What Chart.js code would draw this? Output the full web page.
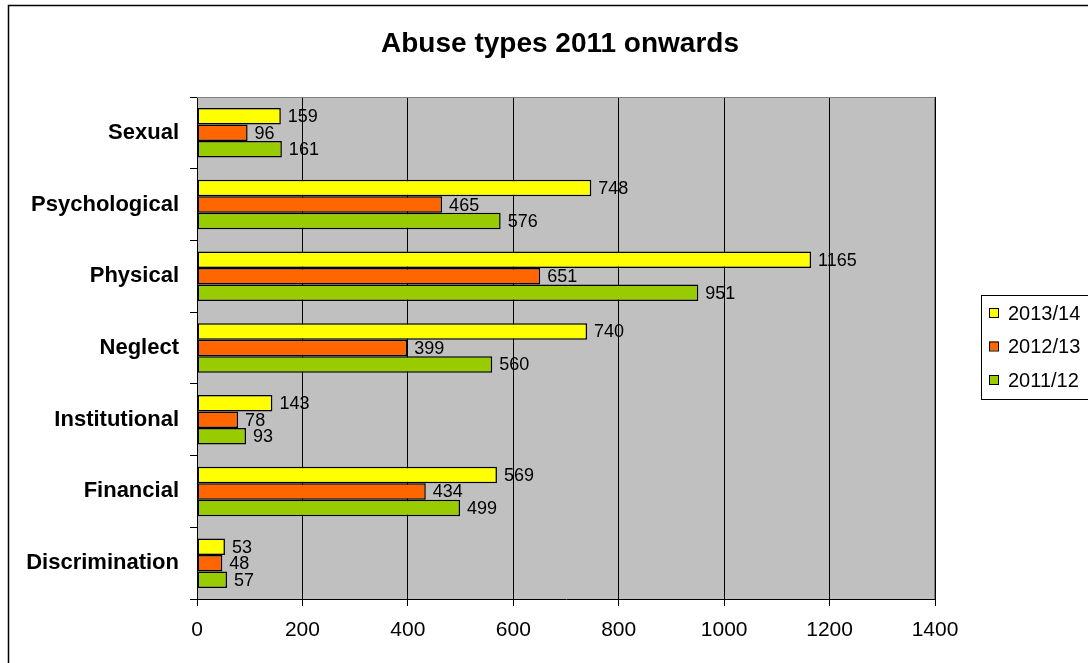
<!DOCTYPE html>
<html>
<head>
<meta charset="utf-8">
<title>Abuse types 2011 onwards</title>
<script src="https://cdn.jsdelivr.net/npm/chart.js@4/dist/chart.umd.min.js"></script>
<style>
  html, body { margin: 0; padding: 0; background: #fff; }
  canvas { display: block; }
</style>
</head>
<body>
<canvas id="abuseChart" width="1088" height="663"></canvas>
<script>
// Abuse types by year, horizontal grouped bars
const categories = ['Sexual', 'Psychological', 'Physical', 'Neglect', 'Institutional', 'Financial', 'Discrimination'];
const seriesNames = ['2013/14', '2012/13', '2011/12'];
const values1314 = [159, 748, 1165, 740, 143, 569, 53];
const values1213 = [96, 465, 651, 399, 78, 434, 48];
const values1112 = [161, 576, 951, 560, 93, 499, 57];
const axisMin = 0;
const axisMax = 1400;
const axisStep = 200;

const FONT = '"Liberation Sans", Arial, sans-serif';
const colors = ['#FFFF00', '#FF6600', '#99CC00'];

// grey plot background, drawn before the grid
const plotBackground = {
  id: 'plotBackground',
  beforeDraw(chart) {
    const { ctx, chartArea: a } = chart;
    ctx.save();
    ctx.fillStyle = '#fff';
    ctx.fillRect(0, 0, chart.width, chart.height);
    ctx.fillStyle = '#C0C0C0';
    ctx.fillRect(a.left, a.top, a.right - a.left, a.bottom - a.top);
    ctx.restore();
  }
};

// value labels to the right of each bar
const valueLabels = {
  id: 'valueLabels',
  afterDatasetsDraw(chart) {
    const ctx = chart.ctx;
    ctx.save();
    ctx.font = '18px ' + FONT;
    ctx.fillStyle = '#000';
    ctx.textAlign = 'left';
    ctx.textBaseline = 'middle';
    chart.data.datasets.forEach((ds, i) => {
      chart.getDatasetMeta(i).data.forEach((bar, j) => {
        ctx.fillText(String(ds.data[j]), bar.x + 7, bar.y + 1);
      });
    });
    ctx.restore();
  }
};

// title, outer frame, plot edges and the boxed legend
const frameAndLegend = {
  id: 'frameAndLegend',
  afterDraw(chart) {
    const { ctx, chartArea: a } = chart;
    ctx.save();

    ctx.strokeStyle = '#000';
    ctx.lineWidth = 1.5;
    ctx.strokeRect(8.5, 5.5, 1200, 800);

    ctx.strokeStyle = '#808080';
    ctx.lineWidth = 1;
    ctx.beginPath();
    ctx.moveTo(a.left, a.top + 0.5);
    ctx.lineTo(a.right, a.top + 0.5);
    ctx.moveTo(a.right - 0.5, a.top);
    ctx.lineTo(a.right - 0.5, a.bottom);
    ctx.stroke();

    ctx.fillStyle = '#000';
    ctx.font = 'bold 28px ' + FONT;
    ctx.textAlign = 'center';
    ctx.textBaseline = 'alphabetic';
    ctx.fillText('Abuse types 2011 onwards', 560, 52);

    ctx.strokeStyle = '#000';
    ctx.lineWidth = 1;
    ctx.strokeRect(981.5, 295.5, 200, 104);
    const rows = [313, 346.5, 380];
    ctx.font = '20px ' + FONT;
    ctx.textAlign = 'left';
    ctx.textBaseline = 'middle';
    chart.data.datasets.forEach((ds, i) => {
      const y = rows[i];
      ctx.fillStyle = ds.backgroundColor;
      ctx.fillRect(989, y - 5, 9, 9);
      ctx.strokeRect(989.5, y - 4.5, 9, 9);
      ctx.fillStyle = '#000';
      ctx.fillText(ds.label, 1008, y + 1);
    });
    ctx.restore();
  }
};

const seriesValues = [values1314, values1213, values1112];

new Chart(document.getElementById('abuseChart'), {
  type: 'bar',
  data: {
    labels: categories,
    datasets: seriesNames.map((name, i) => ({
      label: name,
      data: seriesValues[i],
      backgroundColor: colors[i],
      borderColor: '#000',
      borderWidth: 1.5,
      borderSkipped: false,
      categoryPercentage: 0.69,
      barPercentage: 1.0
    }))
  },
  options: {
    indexAxis: 'y',
    responsive: false,
    animation: false,
    layout: { padding: { top: 97, right: 153, left: 0, bottom: 0 } },
    plugins: {
      legend: { display: false },
      title: { display: false },
      tooltip: { enabled: false }
    },
    scales: {
      x: {
        min: axisMin,
        max: axisMax,
        ticks: {
          stepSize: axisStep,
          color: '#000',
          padding: 12,
          maxRotation: 0,
          font: { family: FONT, size: 21 },
          callback: (v) => String(v)
        },
        grid: { color: '#000', lineWidth: 1, tickLength: 7 },
        border: { color: '#000', width: 1 },
        afterFit(scale) { scale.height = 64; }
      },
      y: {
        ticks: {
          color: '#000',
          padding: 11,
          font: { family: FONT, size: 22, weight: 'bold' }
        },
        grid: { drawOnChartArea: false, offset: true, tickLength: 7, color: '#000' },
        border: { color: '#000', width: 1 },
        afterFit(scale) { scale.width = 197; }
      }
    }
  },
  plugins: [plotBackground, valueLabels, frameAndLegend]
});
</script>
</body>
</html>
